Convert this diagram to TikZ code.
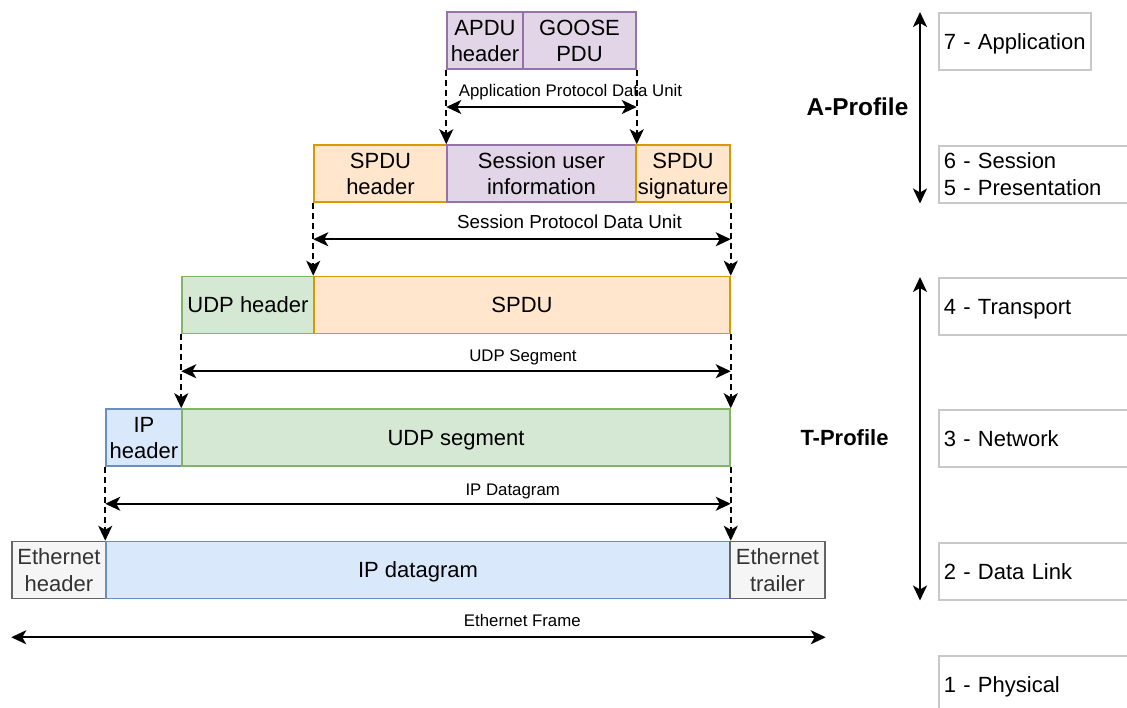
\documentclass[tikz,border=0pt]{standalone}
\usepackage{fontspec}
\setmainfont{Liberation Sans}
\usetikzlibrary{arrows.meta,calc}

\definecolor{purplefill}{HTML}{E1D5E7}
\definecolor{purpleline}{HTML}{9673A6}
\definecolor{orangefill}{HTML}{FFE6CC}
\definecolor{orangeline}{HTML}{D79B00}
\definecolor{greenfill}{HTML}{D5E8D4}
\definecolor{greenline}{HTML}{82B366}
\definecolor{bluefill}{HTML}{DAE8FC}
\definecolor{blueline}{HTML}{6C8EBF}
\definecolor{grayfill}{HTML}{F5F5F5}
\definecolor{grayline}{HTML}{666666}
\definecolor{graytext}{HTML}{333333}
\definecolor{layerline}{HTML}{C8C8C8}

% fixed line extents so that box texts are centred on their capitals
\newcommand\capstrutA{\rule{0pt}{21.75pt}}
\newcommand\capstrutAA{\rule{0pt}{48.25pt}}
\newcommand\capstrutB{\rule[-6pt]{0pt}{6pt}}

\tikzset{
  boxtext/.style={font=\fontsize{22}{26.5}\selectfont,
    execute at begin node=\capstrutA, execute at end node=\capstrutB},
  twoline/.style={execute at begin node=\capstrutAA},
  pdu/.style={draw, line width=1.5pt, minimum height=57pt, inner sep=0pt,
    align=center, boxtext},
  app/.style={pdu, fill=purplefill, draw=purpleline},
  ses/.style={pdu, fill=orangefill, draw=orangeline},
  udp/.style={pdu, fill=greenfill, draw=greenline},
  ipx/.style={pdu, fill=bluefill, draw=blueline},
  eth/.style={pdu, fill=grayfill, draw=grayline, text=graytext},
  layer/.style={draw=layerline, line width=1.5pt, fill=white, anchor=north west,
    minimum height=57pt, inner xsep=5pt, inner ysep=0pt, align=left, boxtext},
  lbl/.style={inner sep=0pt, anchor=base, font=\fontsize{16.8}{20}\selectfont},
  profile/.style={inner sep=0pt, anchor=base, font=\fontsize{22}{26.5}\selectfont\bfseries},
  span/.style={line width=2pt, {Stealth[length=15pt, width=14pt, inset=4pt]}-{Stealth[length=15pt, width=14pt, inset=4pt]}},
  drop/.style={line width=2pt, dash pattern=on 6pt off 4pt, -{Stealth[length=15pt, width=14pt, inset=4pt]}},
}

\begin{document}
\begin{tikzpicture}[x=1pt, y=-1pt]
\path[use as bounding box, clip] (0,0) rectangle (1127,707);
\fill[white] (0,0) rectangle (1127,707);

% application layer PDU
\node[app, twoline, minimum width=76pt]  (apdu)  at (485,40.5)   {APDU\\header};
\node[app, twoline, minimum width=113pt] (goose) at (579.5,40.5) {GOOSE\\PDU};

% session layer PDU
\node[ses, twoline, minimum width=133pt] (spduh) at (380.5,173.5) {SPDU\\header};
\node[app, twoline, minimum width=189pt] (sui)   at (541.5,173.5) {Session user\\information};
\node[ses, twoline, minimum width=94pt]  (spdus) at (683,173.5)   {SPDU\\signature};

% transport layer PDU
\node[udp, minimum width=132pt] (udph) at (248,305) {UDP header};
\node[ses, minimum width=416pt] (spdu) at (522,305) {SPDU};

% network layer PDU
\node[ipx, twoline, minimum width=76pt] (iph)  at (144,437.5) {IP\\header};
\node[udp, minimum width=548pt]         (udps) at (456,437.5) {UDP segment};

% data link frame
\node[eth, twoline, minimum width=94pt] (ethh) at (59,570)    {Ethernet\\header};
\node[ipx, minimum width=624pt]         (ipd)  at (418,570)   {IP datagram};
\node[eth, twoline, minimum width=95pt] (etht) at (777.5,570) {Ethernet\\trailer};

% encapsulation drops
\draw[drop] (apdu.south west)  -- (sui.north west);
\draw[drop] (goose.south east) -- (sui.north east);
\draw[drop] (spduh.south west) -- (spdu.north west);
\draw[drop] (spdus.south east) -- (spdu.north east);
\draw[drop] (udph.south west)  -- (udps.north west);
\draw[drop] (spdu.south east)  -- (udps.north east);
\draw[drop] (iph.south west)   -- (ipd.north west);
\draw[drop] (udps.south east)  -- (ipd.north east);

% unit spans
\draw[span] ($(apdu.south west)!0.5!(sui.north west)$) -- ($(goose.south east)!0.5!(sui.north east)$);
\node[lbl] (lapdu) at (570.5,96.7) {Application Protocol Data Unit};
\draw[span] ($(spduh.south west)!0.5!(spdu.north west)$) -- ($(spdus.south east)!0.5!(spdu.north east)$);
\node[lbl, font=\fontsize{18.8}{22}\selectfont] (lspdu) at (569.5,228.3) {Session Protocol Data Unit};
\draw[span] ($(udph.south west)!0.5!(udps.north west)$) -- ($(spdu.south east)!0.5!(udps.north east)$);
\node[lbl] (ludp) at (523,361.7) {UDP Segment};
\draw[span] ($(iph.south west)!0.5!(ipd.north west)$) -- ($(udps.south east)!0.5!(ipd.north east)$);
\node[lbl] (lip) at (512.7,495) {IP Datagram};
\coordinate (ef1) at ($(ethh.south west)+(0,38)$);
\coordinate (ef2) at ($(etht.south east)+(0,38)$);
\draw[span] (ef1) -- (ef2);
\node[lbl] (leth) at (522.3,626.7) {Ethernet Frame};

% OSI layers
\node[layer, minimum width=152pt, text width=142pt] (l7)  at (938,12)  {7 - Application};
\node[layer, minimum width=210pt, text width=200pt] (l65) at (938,145) {6 - Session\\5 - Presentation};
\node[layer, minimum width=210pt, text width=200pt] (l4)  at (938,277) {4 - Transport};
\node[layer, minimum width=210pt, text width=200pt] (l3)  at (938,409) {3 - Network};
\node[layer, minimum width=210pt, text width=200pt] (l2)  at (938,542) {2 - Data Link};
\node[layer, minimum width=210pt, text width=200pt] (l1)  at (938,655) {1 - Physical};

% profiles
\draw[span] ($(l7.north west)+(-18,0)$) -- ($(l65.south west)+(-18,0)$);
\draw[span] ($(l4.north west)+(-18,0)$) -- ($(l2.south west)+(-18,0)$);
\node[profile, font=\fontsize{24.4}{28}\selectfont\bfseries] (ap) at (857.5,115) {A-Profile};
\node[profile] (tp) at (844.5,445) {T-Profile};
\end{tikzpicture}
\end{document}
